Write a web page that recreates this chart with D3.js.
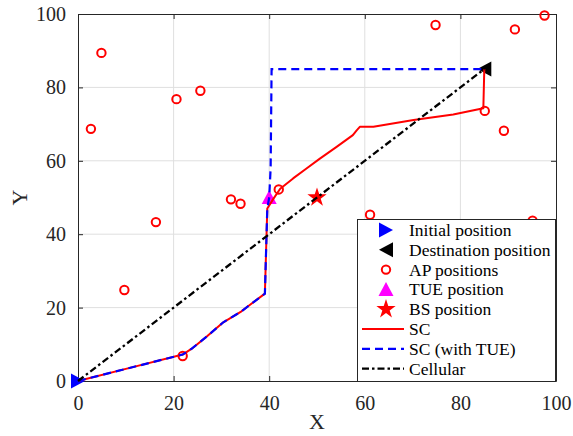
<!DOCTYPE html>
<html><head><meta charset="utf-8">
<script src="https://cdn.jsdelivr.net/npm/d3@7"></script>
<style>
html,body{margin:0;padding:0;background:#fff;}
text{font-family:"Liberation Serif","Times New Roman",serif;}
</style></head>
<body>
<svg id="chart" width="573" height="436"></svg>
<script>
// ---- data ----
const xTicks = [0, 20, 40, 60, 80, 100];
const yTicks = [0, 20, 40, 60, 80, 100];
const apX = [2.7, 4.9, 9.7, 16.3, 20.6, 25.6, 21.9, 32.0, 34.0, 42.0, 61.1, 74.8, 85.1, 89.1, 91.4, 95.1, 97.6];
const apY = [68.7, 89.4, 24.8, 43.3, 76.8, 79.1, 6.8, 49.5, 48.3, 52.2, 45.3, 97.0, 73.6, 68.2, 95.8, 43.7, 99.6];
const initialPos = [0, 0];
const destPos = [85, 85];
const tuePos = [40, 50];
const bsPos = [50, 50];
const scX = [0, 10, 21.9, 23.8, 27.0, 30.4, 34.2, 39.1, 39.6, 40.9, 42.3, 45.0, 47.8, 50.6, 54.1, 57.5, 58.3, 59.0, 61.8, 70.2, 78.5, 84.8, 85.0];
const scY = [0, 3.3, 7.2, 8.8, 12.2, 16.0, 19.0, 23.8, 47.0, 49.7, 52.4, 55.2, 57.9, 60.6, 63.8, 67.0, 68.3, 69.3, 69.3, 71.1, 72.6, 74.3, 85.0];
const scTueX = [0, 10, 21.9, 23.8, 27.0, 30.4, 34.2, 39.1, 39.6, 40.0, 40.3, 40.5, 85.0];
const scTueY = [0, 3.3, 7.2, 8.8, 12.2, 16.0, 19.0, 23.8, 47.0, 50.0, 58.0, 85.0, 85.0];
const cellX = [0, 85];
const cellY = [0, 85];
const legendLabels = ["Initial position", "Destination position", "AP positions", "TUE position", "BS position", "SC", "SC (with TUE)", "Cellular"];

// ---- layout ----
const svg = d3.select("#chart");
const L = 78, R = 556, T = 14, B = 381;
const x = d3.scaleLinear().domain([0, 100]).range([L, R]);
const y = d3.scaleLinear().domain([0, 100]).range([B, T]);
const axisColor = "#262626";

// grid
const g = svg.append("g");
g.selectAll(".gx").data(xTicks.slice(1, -1)).join("line")
  .attr("x1", d => x(d)).attr("x2", d => x(d)).attr("y1", T).attr("y2", B)
  .attr("stroke", "#dfdfdf").attr("stroke-width", 1);
g.selectAll(".gy").data(yTicks.slice(1, -1)).join("line")
  .attr("y1", d => y(d)).attr("y2", d => y(d)).attr("x1", L).attr("x2", R)
  .attr("stroke", "#dfdfdf").attr("stroke-width", 1);

// axes
const fmt = d3.format("d");
const xAxis = svg.append("g").attr("transform", `translate(0,${B})`)
  .call(d3.axisBottom(x).tickValues(xTicks).tickFormat(fmt).tickSizeInner(-5).tickSizeOuter(0).tickPadding(15));
const yAxis = svg.append("g").attr("transform", `translate(${L},0)`)
  .call(d3.axisLeft(y).tickValues(yTicks).tickFormat(fmt).tickSizeInner(-5).tickSizeOuter(0).tickPadding(12));
const xAxisTop = svg.append("g").attr("transform", `translate(0,${T})`)
  .call(d3.axisTop(x).tickValues(xTicks).tickFormat("").tickSizeInner(-5).tickSizeOuter(0));
const yAxisRight = svg.append("g").attr("transform", `translate(${R},0)`)
  .call(d3.axisRight(y).tickValues(yTicks).tickFormat("").tickSizeInner(-5).tickSizeOuter(0));
[xAxis, yAxis, xAxisTop, yAxisRight].forEach(a => {
  a.attr("font-family", null);
  a.select(".domain").attr("stroke", axisColor).attr("stroke-width", 1);
  a.selectAll(".tick line").attr("stroke", axisColor);
  a.selectAll(".tick text").attr("fill", axisColor)
    .style("font-family", '"Liberation Serif", serif').style("font-size", "20px");
});

// axis labels
svg.append("text").attr("x", (L + R) / 2).attr("y", 429).attr("text-anchor", "middle")
  .attr("fill", axisColor).style("font-size", "22px").text("X");
svg.append("text").attr("transform", `translate(27,${(T + B) / 2}) rotate(-90)`)
  .attr("text-anchor", "middle").attr("fill", axisColor).style("font-size", "22px").text("Y");

// marker shapes
const triRight = "M-7,-7.5L7,0L-7,7.5Z";
const triLeft = "M7,-7.5L-7,0L7,7.5Z";
const triUp = "M-7.5,6.5L7.5,6.5L0,-7.5Z";
const star = d3.symbol(d3.symbolStar, 115)();

const plot = svg.append("g");
// AP positions
plot.selectAll(".ap").data(apX.map((v, i) => [v, apY[i]])).join("circle")
  .attr("cx", d => x(d[0])).attr("cy", d => y(d[1])).attr("r", 4.2)
  .attr("fill", "none").attr("stroke", "#ff0000").attr("stroke-width", 2);

// point markers
const pts = [
  {p: initialPos, path: triRight, fill: "#0000ff"},
  {p: destPos, path: triLeft, fill: "#000000"},
  {p: tuePos, path: triUp, fill: "#ff00ff"},
  {p: bsPos, path: star, fill: "#ff0000"}
];
plot.selectAll(".mk").data(pts).join("path")
  .attr("d", d => d.path)
  .attr("transform", d => `translate(${x(d.p[0])},${y(d.p[1])})`)
  .attr("fill", d => d.fill);

// lines
const line = d3.line().x(d => x(d[0])).y(d => y(d[1]));
plot.append("path").datum(scX.map((v, i) => [v, scY[i]])).attr("d", line)
  .attr("fill", "none").attr("stroke", "#ff0000").attr("stroke-width", 2).attr("stroke-linejoin", "round");
plot.append("path").datum(scTueX.map((v, i) => [v, scTueY[i]])).attr("d", line)
  .attr("fill", "none").attr("stroke", "#0000ff").attr("stroke-width", 2.2).attr("stroke-dasharray", "8,5");
plot.append("path").datum(cellX.map((v, i) => [v, cellY[i]])).attr("d", line)
  .attr("fill", "none").attr("stroke", "#000000").attr("stroke-width", 2.3).attr("stroke-dasharray", "7,3,2.5,3");

// legend
const lg = svg.append("g");
const lx0 = 357, ly0 = 219, lx1 = 556, ly1 = 382;
lg.append("rect").attr("x", lx0 + 0.5).attr("y", ly0 + 0.5).attr("width", lx1 - lx0 - 1).attr("height", ly1 - ly0 - 1)
  .attr("fill", "#fff").attr("stroke", axisColor).attr("stroke-width", 1);
const rowY = i => 230 + i * 19.8;
const legendSym = [
  {type: "path", path: triRight, fill: "#0000ff"},
  {type: "path", path: triLeft, fill: "#000000"},
  {type: "circle"},
  {type: "path", path: triUp, fill: "#ff00ff"},
  {type: "path", path: star, fill: "#ff0000"},
  {type: "line", stroke: "#ff0000", dash: null},
  {type: "line", stroke: "#0000ff", dash: "8,5"},
  {type: "line", stroke: "#000000", dash: "7,3,2.5,3"}
];
legendLabels.forEach((lab, i) => {
  const s = legendSym[i], cy = rowY(i), cx = 386;
  if (s.type === "path") {
    lg.append("path").attr("d", s.path).attr("transform", `translate(${cx},${cy})`).attr("fill", s.fill);
  } else if (s.type === "circle") {
    lg.append("circle").attr("cx", cx).attr("cy", cy).attr("r", 4.2)
      .attr("fill", "none").attr("stroke", "#ff0000").attr("stroke-width", 2);
  } else {
    lg.append("line").attr("x1", 362).attr("x2", 404).attr("y1", cy).attr("y2", cy)
      .attr("stroke", s.stroke).attr("stroke-width", 2.2).attr("stroke-dasharray", s.dash);
  }
  lg.append("text").attr("x", 409).attr("y", cy).attr("dy", "0.34em")
    .attr("fill", "#000").style("font-size", "17.5px").text(lab);
});
</script>
</body></html>
